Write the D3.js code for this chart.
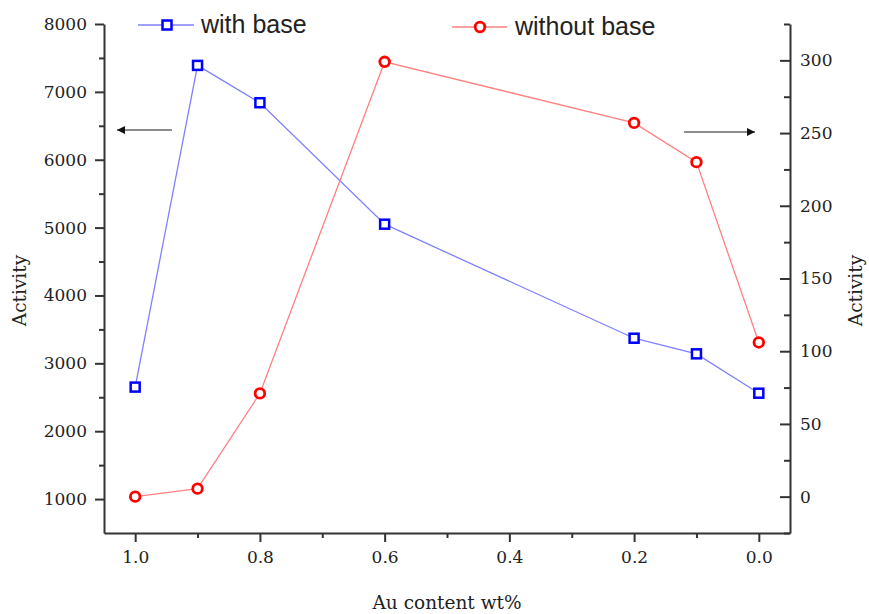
<!DOCTYPE html>
<html><head><meta charset="utf-8">
<script src="https://cdn.jsdelivr.net/npm/d3@7"></script>
<style>body{margin:0;background:#fff}svg{display:block}</style>
</head><body>
<svg id="c" width="869" height="614"></svg>
<script>
const auContent = [1.0, 0.9, 0.8, 0.6, 0.2, 0.1, 0.0];
const withBase = [2650, 7390, 6840, 5050, 3370, 3140, 2560];
const withoutBase = [0, 5.5, 71, 299, 257, 230, 106];
const xTicks = [1.0, 0.8, 0.6, 0.4, 0.2, 0.0];
const xMinor = [0.9, 0.7, 0.5, 0.3, 0.1];
const leftTicks = [1000, 2000, 3000, 4000, 5000, 6000, 7000, 8000];
const leftMinor = [1500, 2500, 3500, 4500, 5500, 6500, 7500];
const rightTicks = [0, 50, 100, 150, 200, 250, 300];
const rightMinor = [-25, 25, 75, 125, 175, 225, 275, 325];

const svg = d3.select("#c");
const L = 104, R = 790, T = 24, B = 533;
const x = d3.scaleLinear().domain([1.05, -0.05]).range([L, R]);
const yL = d3.scaleLinear().domain([500, 8000]).range([B, T]);
const yR = d3.scaleLinear().domain([-25, 325]).range([B, T]);
const axisColor = "#333";
const serif = "'DejaVu Serif', 'Liberation Serif', serif";

function styleAxis(g){
  g.select(".domain").attr("stroke", axisColor).attr("stroke-width", 2);
  g.selectAll(".tick line").attr("stroke", axisColor).attr("stroke-width", 2);
  g.selectAll(".tick text").attr("fill", "#222").style("font-family", serif).style("font-size", "17px");
}

// bottom axis
const gx = svg.append("g").attr("transform", `translate(0,${B})`)
  .call(d3.axisBottom(x).tickValues(xTicks).tickFormat(d3.format(".1f")).tickSize(9).tickSizeOuter(0).tickPadding(9));
styleAxis(gx);
svg.append("g").attr("transform", `translate(0,${B})`)
  .call(d3.axisBottom(x).tickValues(xMinor).tickFormat("").tickSize(5).tickSizeOuter(0))
  .call(g => { g.select(".domain").remove(); g.selectAll("line").attr("stroke", axisColor).attr("stroke-width", 2); });

// left axis
const gl = svg.append("g").attr("transform", `translate(${L},0)`)
  .call(d3.axisLeft(yL).tickValues(leftTicks).tickFormat(d3.format("d")).tickSize(9).tickSizeOuter(0).tickPadding(8));
styleAxis(gl);
svg.append("g").attr("transform", `translate(${L},0)`)
  .call(d3.axisLeft(yL).tickValues(leftMinor).tickFormat("").tickSize(5).tickSizeOuter(0))
  .call(g => { g.select(".domain").remove(); g.selectAll("line").attr("stroke", axisColor).attr("stroke-width", 2); });

// right axis (ticks inward, labels outside)
const gr = svg.append("g").attr("transform", `translate(${R},0)`)
  .call(d3.axisRight(yR).tickValues(rightTicks).tickFormat(d3.format("d")).tickSize(0).tickSizeOuter(0).tickPadding(10));
styleAxis(gr);
gr.selectAll(".tick line").attr("x2", -10);
svg.append("g").attr("transform", `translate(${R},0)`)
  .call(d3.axisRight(yR).tickValues(rightMinor).tickFormat("").tickSize(0).tickSizeOuter(0))
  .call(g => { g.select(".domain").remove(); g.selectAll("line").attr("x2", -6).attr("stroke", axisColor).attr("stroke-width", 2); });

// axis titles
svg.append("text").attr("transform", `translate(26,${(T+B)/2+12}) rotate(-90)`).attr("text-anchor","middle")
  .style("font-family", serif).style("font-size","18.5px").attr("fill","#222").text("Activity");
svg.append("text").attr("transform", `translate(862,${(T+B)/2+12}) rotate(-90)`).attr("text-anchor","middle")
  .style("font-family", serif).style("font-size","18.5px").attr("fill","#222").text("Activity");
svg.append("text").attr("x", (L+R)/2).attr("y", 609).attr("text-anchor","middle")
  .style("font-family", serif).style("font-size","18.5px").attr("fill","#222").text("Au content wt%");

// lines
const blue = "#0000ff", lblue = "#8080ff", red = "#ff0000", lred = "#ff8080";
const lineL = d3.line().x((d,i)=>x(auContent[i])).y(d=>yL(d));
const lineR = d3.line().x((d,i)=>x(auContent[i])).y(d=>yR(d));
svg.append("path").attr("d", lineL(withBase)).attr("fill","none").attr("stroke", lblue).attr("stroke-width",1.3);
svg.append("path").attr("d", lineR(withoutBase)).attr("fill","none").attr("stroke", lred).attr("stroke-width",1.3);

svg.selectAll(".sq").data(withBase).enter().append("rect")
  .attr("x",(d,i)=>x(auContent[i])-4.5).attr("y",d=>yL(d)-4.5).attr("width",9).attr("height",9)
  .attr("fill","#fff").attr("stroke",blue).attr("stroke-width",2.5);
svg.selectAll(".ci").data(withoutBase).enter().append("circle")
  .attr("cx",(d,i)=>x(auContent[i])).attr("cy",d=>yR(d)).attr("r",4.8)
  .attr("fill","#fff").attr("stroke",red).attr("stroke-width",2.8);

// legend
const sans = "'Liberation Sans', Arial, sans-serif";
svg.append("line").attr("x1",138).attr("x2",194).attr("y1",25).attr("y2",25).attr("stroke",lblue).attr("stroke-width",1.3);
svg.append("rect").attr("x",162.5).attr("y",20.5).attr("width",9).attr("height",9).attr("fill","#fff").attr("stroke",blue).attr("stroke-width",2.5);
svg.append("text").attr("x",201).attr("y",33).style("font-family",sans).style("font-size","25px").attr("fill","#222").text("with base");
svg.append("line").attr("x1",452).attr("x2",507).attr("y1",27).attr("y2",27).attr("stroke",lred).attr("stroke-width",1.3);
svg.append("circle").attr("cx",480).attr("cy",27).attr("r",4.8).attr("fill","#fff").attr("stroke",red).attr("stroke-width",2.8);
svg.append("text").attr("x",515).attr("y",35).style("font-family",sans).style("font-size","25px").attr("fill","#222").text("without base");

// arrows
const defs = svg.append("defs");
defs.append("marker").attr("id","ah").attr("viewBox","0 0 10 10").attr("refX",10).attr("refY",5)
  .attr("markerWidth",14).attr("markerHeight",8).attr("markerUnits","userSpaceOnUse").attr("orient","auto")
  .append("path").attr("d","M0,0L10,5L0,10Z").attr("fill","#111");
svg.append("line").attr("x1",172).attr("x2",117).attr("y1",130).attr("y2",130).attr("stroke","#666").attr("stroke-width",1.3).attr("marker-end","url(#ah)");
svg.append("line").attr("x1",684).attr("x2",755).attr("y1",132).attr("y2",132).attr("stroke","#666").attr("stroke-width",1.3).attr("marker-end","url(#ah)");
</script>
</body></html>
